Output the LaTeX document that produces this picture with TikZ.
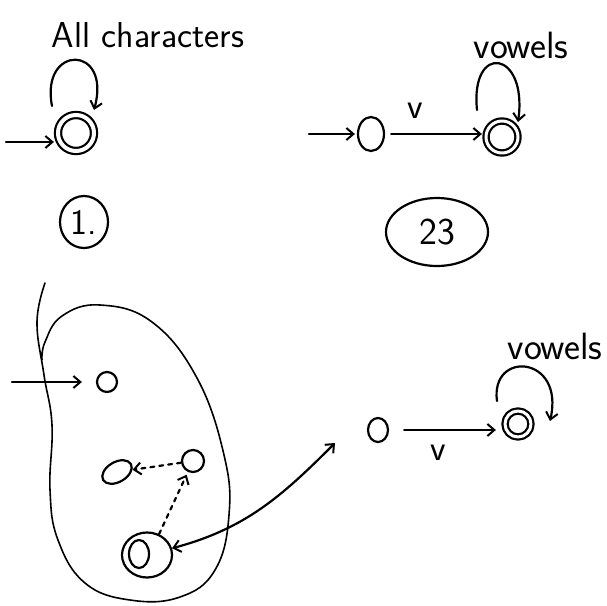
\documentclass[tikz,border=0pt]{standalone}
\usetikzlibrary{arrows.meta,shapes.geometric}
\begin{document}
\begin{tikzpicture}[x=1pt,y=1pt,
  ink/.style={line width=2.2pt, line cap=round, line join=round},
  barb/.tip={Straight Barb[length=7pt,width=12pt,line width=2pt]},
  arr/.style={ink, -barb},
  bothways/.style={ink, barb-barb},
  darr/.style={arr, dash pattern=on 4pt off 5pt},
  state/.style={ellipse, draw, ink, inner sep=0pt},
  accept/.style={state, double, double distance=3pt},
  hand/.style={font=\sffamily\fontsize{36}{42}\selectfont, inner sep=0pt},
  bighand/.style={font=\sffamily\fontsize{38}{44}\selectfont, inner sep=0pt},
]
\useasboundingbox (0,0) rectangle (607,-605);

% ---------- machine 1: accepts everything ----------
\node[hand] (allchars) at (148,-35) {All characters};
\node[state, minimum size=36pt, double, double distance=4pt] (a) at (76,-133) {};
\coordinate (a in) at (6,-142);
\draw[arr, shorten >=3pt] (a in) -- (a in -| a.west);
\draw[arr] ([shift={(-24,27)}]a.center) .. controls (40,-44) and (112,-44) .. ([shift={(18,23)}]a.center);
\node[state, minimum width=48pt, minimum height=52pt, hand] (n1) at (84,-222) {1.};

% ---------- machine 2: v followed by vowels ----------
\node[state, minimum width=26pt, minimum height=34pt] (q0) at (371,-134) {};
\coordinate (q0 in) at (309,-134);
\draw[arr, shorten >=2pt] (q0 in) -- (q0);
\node[accept, minimum size=32pt] (q1) at (502,-137) {};
\draw[arr, shorten <=6pt, shorten >=3pt] (q0.east) -- node[hand, pos=0.3, above=14pt] (v1) {v} (q0.east -| q1.west);
\draw[arr] ([shift={(-25,27)}]q1.center) .. controls (470,-42) and (528,-50) .. ([shift={(16,15)}]q1.center);
\node[bighand] (vow1) at (521,-45) {vowels};
\node[state, minimum width=102pt, minimum height=68pt, bighand] (n23) at (437,-232) {23};

% ---------- the blob of states ----------
\draw[line width=1.6pt, line cap=round] plot[smooth, tension=0.7] coordinates {
  (45,-283) (37,-322) (44,-375) (52,-425) (50,-490) (58,-540) (85,-583)
  (130,-600) (180,-597) (215,-570) (229,-515) (224,-455) (197,-378)
  (152,-322) (100,-305) (62,-316) (45,-342) (42,-360)};
\node[state, minimum size=20pt] (b0) at (107,-382) {};
\coordinate (b0 in) at (12,-382);
\draw[arr, shorten >=14pt] (b0 in) -- (b0);
\node[state, minimum width=32pt, minimum height=20pt, rotate=30] (b1) at (117,-472) {};
\node[state, minimum size=22pt] (b2) at (193,-461) {};
\draw[darr] (b2) -- (b1);
\node[state, minimum width=50pt, minimum height=45pt] (f) at (147,-555) {};
\node[state, minimum width=20pt, minimum height=28pt] (f in) at (139,-554) {};
\draw[darr, shorten >=3pt] (f.60) -- (b2);

% ---------- machine 3 ----------
\node[state, minimum width=20pt, minimum height=24pt] (r0) at (378,-430) {};
\node[accept, minimum size=26pt] (r1) at (518,-424) {};
\draw[arr, shorten <=15pt, shorten >=8pt] (r0.east) -- node[hand, pos=0.43, below=14pt] (v2) {v} (r0.east -| r1.west);
\draw[arr] ([shift={(-21,23)}]r1.center) .. controls (490,-350) and (565,-355) .. ([shift={(32,3)}]r1.center);
\node[bighand] (vow2) at (555,-346) {vowels};

\coordinate (far) at (335,-443);
\draw[bothways] (f) to[out=15, in=225] (far);
\end{tikzpicture}
\end{document}
